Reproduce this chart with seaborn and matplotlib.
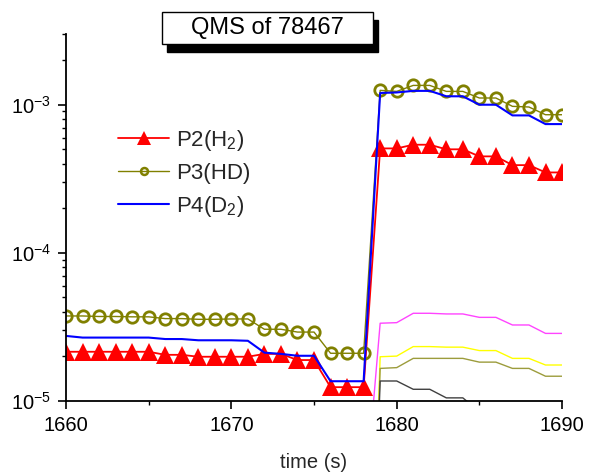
import numpy as np
import matplotlib
matplotlib.use("Agg")
import matplotlib.pyplot as plt
import matplotlib.ticker as ticker
from matplotlib.patches import Rectangle
import seaborn as sns

# time axis, one reading per second
time = list(range(1660, 1691))

p2_h2 = [2.15e-5, 2.15e-5, 2.15e-5, 2.15e-5, 2.15e-5, 2.15e-5,
         2.05e-5, 2.05e-5, 1.99e-5, 1.99e-5, 1.99e-5, 1.99e-5,
         2.08e-5, 2.08e-5, 1.89e-5, 1.89e-5,
         1.24e-5, 1.24e-5, 1.24e-5,
         5.07e-4, 5.07e-4, 5.37e-4, 5.37e-4, 5.0e-4, 5.0e-4,
         4.48e-4, 4.48e-4, 3.91e-4, 3.91e-4, 3.49e-4, 3.49e-4]

p3_hd = [3.75e-5, 3.75e-5, 3.72e-5, 3.72e-5, 3.7e-5, 3.7e-5,
         3.6e-5, 3.6e-5, 3.56e-5, 3.56e-5, 3.58e-5, 3.58e-5,
         3.05e-5, 3.05e-5, 2.92e-5, 2.92e-5,
         2.1e-5, 2.1e-5, 2.1e-5,
         1.25e-3, 1.23e-3, 1.35e-3, 1.35e-3, 1.23e-3, 1.23e-3,
         1.11e-3, 1.11e-3, 9.75e-4, 9.65e-4, 8.56e-4, 8.56e-4]

p4_d2 = [2.75e-5, 2.68e-5, 2.68e-5, 2.68e-5, 2.68e-5, 2.68e-5,
         2.62e-5, 2.62e-5, 2.57e-5, 2.57e-5, 2.57e-5, 2.55e-5,
         2.12e-5, 2.08e-5, 2.02e-5, 2.02e-5,
         1.36e-5, 1.36e-5, 1.36e-5,
         1.2e-3, 1.21e-3, 1.24e-3, 1.24e-3, 1.14e-3, 1.14e-3,
         1.0e-3, 1.0e-3, 8.47e-4, 8.47e-4, 7.4e-4, 7.4e-4]

# unlabelled traces, they only show up after the jump
time_late = list(range(1678, 1691))
magenta = [1.6e-6, 3.35e-5, 3.38e-5, 3.91e-5, 3.91e-5, 3.87e-5, 3.87e-5,
           3.67e-5, 3.67e-5, 3.26e-5, 3.26e-5, 2.86e-5, 2.86e-5]
yellow = [1e-8, 1.99e-5, 2.01e-5, 2.33e-5, 2.33e-5, 2.31e-5, 2.31e-5,
          2.19e-5, 2.19e-5, 1.94e-5, 1.94e-5, 1.75e-5, 1.75e-5]
olive = [1e-8, 1.66e-5, 1.68e-5, 1.94e-5, 1.94e-5, 1.94e-5, 1.94e-5,
         1.83e-5, 1.83e-5, 1.66e-5, 1.66e-5, 1.47e-5, 1.47e-5]
grey = [1e-8, 1.365e-5, 1.365e-5, 1.2e-5, 1.2e-5, 1.05e-5, 1.05e-5,
        8.5e-6, 7e-6, 6e-6, 5e-6, 4.5e-6, 4e-6]

sns.set_theme(style="ticks")
plt.rcParams["font.family"] = ["Liberation Sans", "DejaVu Sans"]
plt.rcParams["mathtext.fontset"] = "custom"
plt.rcParams["mathtext.rm"] = "Liberation Sans"
plt.rcParams["mathtext.default"] = "regular"

fig = plt.figure(figsize=(5.9, 4.72), dpi=100)
ax = fig.add_axes([0.1119, 0.1504, 0.8407, 0.7775])

sns.lineplot(x=time, y=p2_h2, ax=ax, color="#ff0000", lw=1.3,
             marker="^", markersize=13, markeredgewidth=0, label="P2(H$_2$)")
sns.lineplot(x=time, y=p3_hd, ax=ax, color="#808000", lw=1.0,
             marker="o", markersize=8.2, markeredgewidth=2.0,
             markerfacecolor="none", markeredgecolor="#808000", label="P3(HD)")
sns.lineplot(x=time, y=p4_d2, ax=ax, color="#0000ff", lw=1.5, label="P4(D$_2$)")
sns.lineplot(x=time_late, y=magenta, ax=ax, color="#ff44ff", lw=1.0)
sns.lineplot(x=time_late, y=yellow, ax=ax, color="#ffff00", lw=1.0)
sns.lineplot(x=time_late, y=olive, ax=ax, color="#9c9c3c", lw=1.0)
sns.lineplot(x=time_late, y=grey, ax=ax, color="#404040", lw=1.0)

ax.set_yscale("log")
ax.set_xlim(1660, 1690)
ax.set_ylim(1e-5, 3.0e-3)

ax.xaxis.set_major_locator(ticker.MultipleLocator(10))
ax.xaxis.set_minor_locator(ticker.MultipleLocator(5))
ax.yaxis.set_major_locator(ticker.LogLocator(base=10, numticks=10))
ax.yaxis.set_minor_locator(ticker.LogLocator(base=10, subs=np.arange(2, 10), numticks=10))
ax.yaxis.set_minor_formatter(ticker.NullFormatter())
ax.yaxis.set_major_formatter(ticker.FuncFormatter(
    lambda v, pos: r"$10^{%d}$" % int(round(np.log10(v)))))

sns.despine(ax=ax)
for side in ["left", "bottom"]:
    ax.spines[side].set_linewidth(1.3)
    ax.spines[side].set_color("black")
ax.tick_params(axis="both", which="major", direction="out", length=5.5,
               width=1.2, labelsize=14.5, colors="black", pad=5)
ax.tick_params(axis="both", which="minor", direction="out", length=3,
               width=1.0, colors="black")

ax.set_xlabel("time (s)", fontsize=14.5, labelpad=13)
ax.set_ylabel("")

leg = ax.legend(loc="upper left", bbox_to_anchor=(0.105, 0.745), frameon=False,
                fontsize=16, handlelength=2.3, handletextpad=0.3,
                labelspacing=0.45, borderpad=0, borderaxespad=0)
# smaller symbols in the legend, like the original
leg.legend_handles[0].set_markersize(10)
leg.legend_handles[1].set_markersize(5)
leg.legend_handles[1].set_markeredgewidth(1.8)

# title box with a drop shadow
fig.add_artist(Rectangle((0.2830, 0.8898), 0.3576, 0.0678, transform=fig.transFigure,
                         facecolor="black", edgecolor="black", zorder=5))
fig.add_artist(Rectangle((0.2746, 0.9068), 0.3576, 0.0678, transform=fig.transFigure,
                         facecolor="white", edgecolor="black", lw=1.0, zorder=6))
fig.text(0.4534, 0.9407, "QMS of 78467", ha="center", va="center",
         fontsize=17, color="black", zorder=7)

fig.savefig("out.png", dpi=100)
